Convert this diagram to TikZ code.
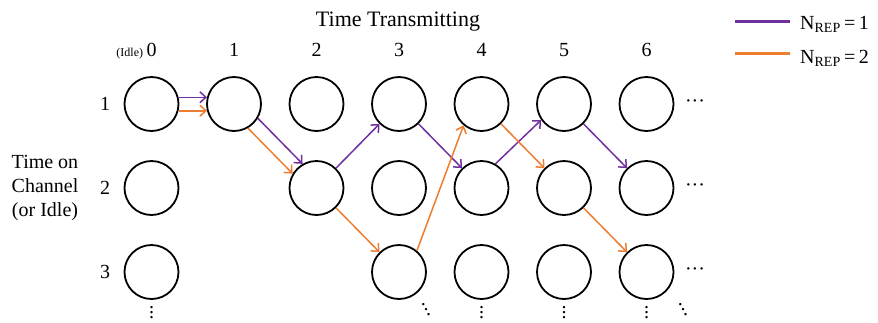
\documentclass[tikz,border=0pt]{standalone}
\usepackage{fontspec}
\setmainfont{Liberation Serif}
\usetikzlibrary{arrows.meta}
\definecolor{reppurple}{HTML}{7030A0}
\definecolor{reporange}{HTML}{ED7D31}
\definecolor{repink}{HTML}{000000}
\newcommand{\steepdots}{\mbox{\raisebox{9.4pt}{.}\kern-2.3pt\raisebox{4.7pt}{.}\kern-2.3pt.}}
\newcommand{\downdots}{\mbox{\raisebox{9.4pt}{.}\kern-5pt\raisebox{4.7pt}{.}\kern-5pt.}}
\newcommand{\sidedots}{\textperiodcentered\textperiodcentered\textperiodcentered}

\begin{document}
\begin{tikzpicture}[
  x=1pt, y=-1pt,
  font=\fontsize{20}{24}\selectfont,
  slot/.style={circle, draw=repink, line width=1.8pt, minimum size=54pt, inner sep=0pt},
  lbl/.style={text=repink, inner sep=0pt},
  onerep/.style={draw=reppurple, line width=1.5pt, -{Straight Barb[length=6pt,width=11pt]}},
  tworep/.style={draw=reporange, line width=1.5pt, -{Straight Barb[length=6pt,width=11pt]}},
  legline/.style={line width=3pt},
]
\useasboundingbox (0,0) rectangle (878,322);

% ===== header =====
\node[lbl, anchor=base, font=\fontsize{22}{26}\selectfont] (title) at (398,26) {Time Transmitting};

% ===== column labels =====
\node[lbl, anchor=base] (t0) at (151.5,56) {0};
\node[lbl, anchor=base east, font=\fontsize{12}{14}\selectfont] (idle) at ([xshift=-3pt]t0.base west) {(Idle)};
\foreach \i in {1,...,6}
  \node[lbl, anchor=base] (t\i) at (151.5+82.5*\i,56) {\i};

% ===== row labels =====
\foreach \j/\y in {1/104,2/188,3/272}
  \node[lbl] (r\j) at (105,\y) {\j};
\node[lbl, align=center] (axis) at (45,188) {Time on\\Channel\\(or Idle)};

% ===== slots =====
\foreach \i/\j in {0/1,1/1,2/1,3/1,4/1,5/1,6/1,
                   0/2,2/2,3/2,4/2,5/2,6/2,
                   0/3,3/3,4/3,5/3,6/3}
  \node[slot] (c\i\j) at (151.5+82.5*\i,20+84*\j) {};

% ===== continuation dots =====
\foreach \j/\y in {1/104,2/188,3/272}
  \node[lbl] (more\j) at (695,\y) {\sidedots};
\foreach \i in {0,4,5,6}
  \node[lbl, anchor=base] (down\i) at (151.5+82.5*\i,318) {\downdots};
\node[lbl, anchor=base] (diag3) at (426,315) {\steepdots};
\node[lbl, anchor=base] (diag6) at (683,315) {\steepdots};

% ===== N_REP = 1 path =====
\draw[onerep] (c01.14) -- (c11.166);
\draw[onerep] (c11.-31) -- (c22.120);
\draw[onerep] (c22) -- (c31);
\draw[onerep] (c31) -- (c42);
\draw[onerep] (c42.60) -- (c51.215);
\draw[onerep] (c51) -- (c62);

% ===== N_REP = 2 path =====
\draw[tworep] (c01.-14) -- (c11.-166);
\draw[tworep] (c11.-60) -- (c22.149);
\draw[tworep] (c22) -- (c33);
\draw[tworep] (c33.50) -- (c41.230);
\draw[tworep] (c41) -- (c52);
\draw[tworep] (c52) -- (c63);

% ===== legend =====
\node[lbl, anchor=base west] (leg1) at (800,29) {N\textsubscript{REP}\,=\,1};
\node[lbl, anchor=base west] (leg2) at (800,63) {N\textsubscript{REP}\,=\,2};
\draw[reppurple, legline] (735,21) -- (790,21);
\draw[reporange, legline] (735,53) -- (790,53);

\end{tikzpicture}
\end{document}
